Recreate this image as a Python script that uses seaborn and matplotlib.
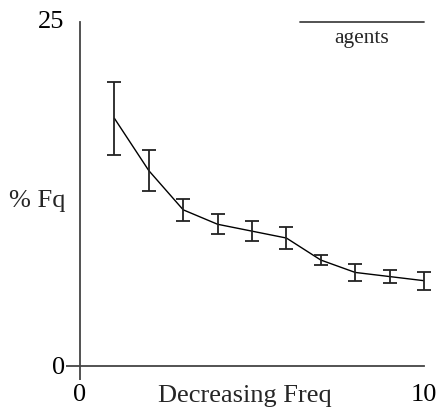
import matplotlib
matplotlib.use("Agg")
import matplotlib.pyplot as plt
from matplotlib.transforms import ScaledTranslation
import seaborn as sns
import pandas as pd

# Data
rank = [1, 2, 3, 4, 5, 6, 7, 8, 9, 10]
pct_fq = [18.0, 14.2, 11.35, 10.3, 9.8, 9.3, 7.7, 6.8, 6.5, 6.2]
err = [2.65, 1.5, 0.8, 0.72, 0.72, 0.78, 0.37, 0.6, 0.5, 0.65]
x_ticks = [0, 10]
y_ticks = [0, 25]
series_name = "agents"

sns.set_style("ticks")
plt.rcParams["font.family"] = ["Liberation Serif", "DejaVu Serif"]

df = pd.DataFrame({"rank": rank, "pct": pct_fq, "err": err})

fig = plt.figure(figsize=(4.42, 4.16), dpi=100)
ax = fig.add_axes([80 / 442, 50 / 416, 344 / 442, 344 / 416])

sns.lineplot(data=df, x="rank", y="pct", ax=ax, color="black", linewidth=1.0)
eb = ax.errorbar(df["rank"], df["pct"], yerr=df["err"], fmt="none", ecolor="#222222",
                 elinewidth=1.3, capsize=5.2, capthick=1.3)
for artist in eb.get_children():
    artist.set_clip_on(False)

ax.set_xlim(0, 10)
ax.set_ylim(0, 25)
ax.set_xticks(x_ticks)
ax.set_yticks(y_ticks)
ax.set_xticklabels([str(t) for t in x_ticks])
ax.set_yticklabels([str(t) for t in y_ticks])

for side in ["top", "right"]:
    ax.spines[side].set_visible(False)
for side in ["left", "bottom"]:
    ax.spines[side].set_color("#444444")
    ax.spines[side].set_linewidth(1.3)

ax.tick_params(axis="both", which="major", direction="out", length=10, width=1.3,
               color="#444444", labelsize=19, labelcolor="black",
               bottom=True, left=True)
ax.tick_params(axis="y", pad=1)
ax.tick_params(axis="x", pad=3)
# only the tick at 0 is drawn on each axis
ax.xaxis.get_major_ticks()[1].tick1line.set_visible(False)
ax.yaxis.get_major_ticks()[1].tick1line.set_visible(False)
# the top y label sits slightly above the axis end in the reference
top_label = ax.yaxis.get_major_ticks()[1].label1
top_label.set_transform(top_label.get_transform()
                        + ScaledTranslation(0, 0.03, fig.dpi_scale_trans))

ax.set_xlabel("Decreasing Freq", fontsize=19)
ax.xaxis.set_label_coords(0.478, -0.087)
ax.xaxis.label.set_va("center")
ax.set_ylabel("% Fq", fontsize=19, rotation=0, ha="right", va="center")
ax.yaxis.set_label_coords(-0.041, 0.48)

# legend: line sample above the label
ax.plot([0.64, 1.0], [1.0, 1.0], transform=ax.transAxes, color="#444444",
        linewidth=1.3, clip_on=False)
ax.text(0.82, 0.953, series_name, transform=ax.transAxes, ha="center", va="center",
        fontsize=15.5)

fig.savefig("out.png", dpi=100)
